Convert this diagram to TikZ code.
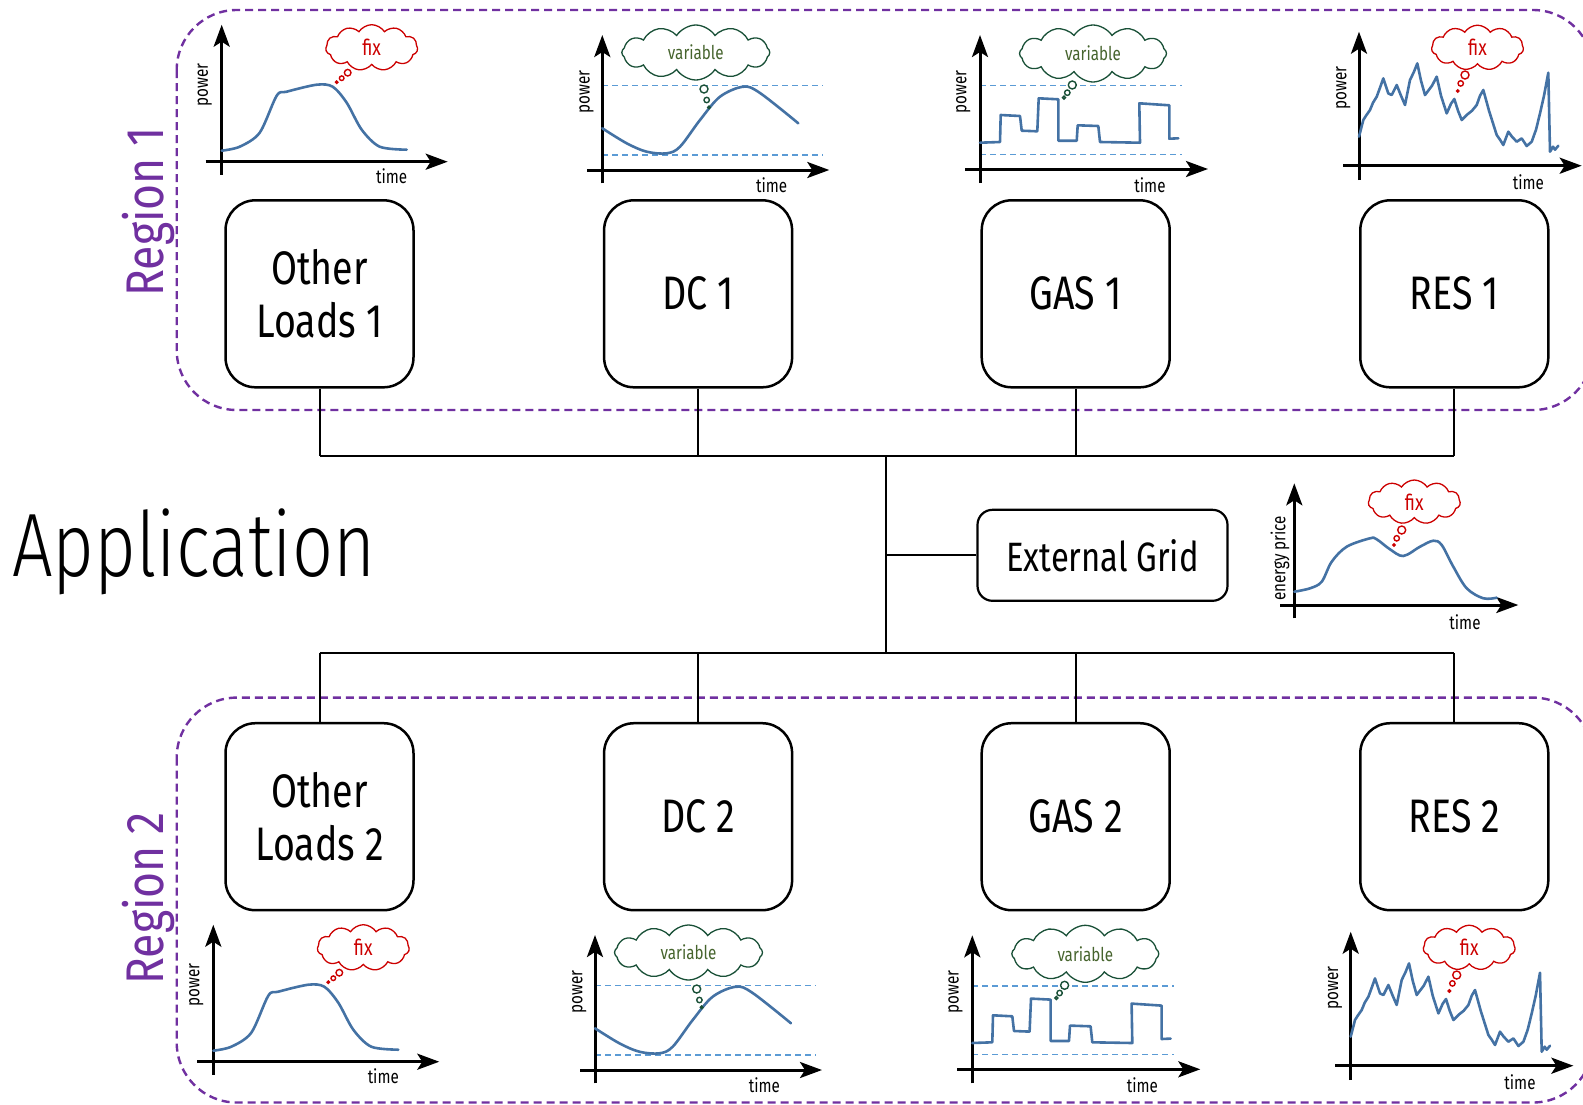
\documentclass[tikz,border=0pt]{standalone}
\usepackage{fontspec}
\setmainfont{Fira Sans}[FakeStretch=0.8]
\newfontfamily\thinfont{Fira Sans Light}[FakeStretch=0.8]
\newfontfamily\labelfont{Fira Sans}[FakeStretch=0.84]
\usetikzlibrary{arrows.meta,shapes.symbols}

\definecolor{regionpurple}{RGB}{112,48,160}
\definecolor{curveblue}{RGB}{68,114,164}
\definecolor{limitblue}{RGB}{91,155,213}
\definecolor{fixred}{RGB}{204,0,0}
\definecolor{varline}{RGB}{25,80,55}
\definecolor{vartext}{RGB}{70,100,45}

\tikzset{
  regionframe/.style={draw=regionpurple, line width=2.4pt, dash pattern=on 8pt off 5pt, rounded corners=60pt},
  regionlabel/.style={text=regionpurple, font=\labelfont\fontsize{53}{58}\selectfont, inner sep=0pt},
  unitbox/.style={draw, line width=2.5pt, rounded corners=30pt, minimum width=188pt, minimum height=187pt,
                  align=center, font=\fontsize{47}{53}\selectfont, inner sep=0pt},
  gridbox/.style={draw, line width=2.2pt, rounded corners=15pt, minimum width=250pt, minimum height=91pt,
                  font=\fontsize{41}{46}\selectfont, inner sep=0pt},
  wire/.style={line width=2pt},
  axisline/.style={line width=3pt, -{Stealth[length=22pt,width=16pt,inset=5pt]}},
  powercurve/.style={draw=curveblue, line width=2.6pt, line join=round, line cap=round},
  limitline/.style={draw=limitblue, line width=1.2pt, dash pattern=on 6pt off 4pt},
  axislabel/.style={font=\fontsize{19}{21}\selectfont, inner sep=0pt},
  fixcloud/.style={cloud, cloud puffs=11, cloud puff arc=115, aspect=2, draw=fixred, fill=white,
                   line width=1.3pt, text=fixred, inner sep=0pt, font=\fontsize{22}{24}\selectfont},
  varcloud/.style={cloud, cloud puffs=12, cloud puff arc=115, aspect=2.6, draw=varline, fill=white,
                   line width=1.3pt, text=vartext, inner sep=0pt, font=\fontsize{19}{21}\selectfont},
  fixbubble/.style={draw=fixred, fill=white, line width=1.4pt},
  varbubble/.style={draw=varline, fill=white, line width=1.4pt},
  % constant load profile
  loadplot/.pic={
    \draw[axisline] (0,13) -- (0,-137);
    \draw[axisline] (-16,0) -- (226,0);
    \draw[powercurve] plot[smooth, tension=0.5] coordinates {(0,-11) (18,-15) (38,-29) (55,-66) (65,-70) (95,-77) (111,-75) (125,-59) (140,-32) (158,-15) (185,-12)};
    \node[axislabel, rotate=90] (-y) at (-17,-77) {power};
    \node[axislabel] (-x) at (170,14) {time};
    \node[fixcloud, minimum width=92pt, minimum height=46pt] (-c) at (150,-114) {fix};
    \draw[fixbubble] (126,-89) circle[radius=3.3pt] (120,-83.5) circle[radius=2.3pt] (115,-79.5) circle[radius=1.2pt];
  },
  % shiftable data-centre load
  dcplot/.pic={
    \draw[limitline] (0,-84.3) -- (221,-84.3);
    \draw[limitline] (0,-15) -- (221,-15);
    \draw[axisline] (0,13.3) -- (0,-135);
    \draw[axisline] (-15,0) -- (227,0);
    \draw[powercurve] plot[smooth, tension=0.55] coordinates {(0,-41.7) (24.4,-26.7) (44.4,-18.3) (64.4,-16.7) (77.7,-23.3) (97.7,-50) (117.7,-73.3) (141,-83.3) (157.7,-77) (196,-46.7)};
    \node[axislabel, rotate=90] (-y) at (-15.7,-78.3) {power};
    \node[axislabel] (-x) at (169.4,15) {time};
    \node[varcloud, minimum width=148pt, minimum height=55pt] (-c) at (93.5,-117.5) {variable};
    \draw[varbubble] (101.7,-81) circle[radius=4pt] (104.4,-70) circle[radius=2.7pt] (106.7,-62.7) circle[radius=1.3pt];
  },
  % gas plant dispatch
  gasplot/.pic={
    \draw[limitline] (0,-83.3) -- (201.7,-83.3);
    \draw[limitline] (0,-14.7) -- (201.7,-14.7);
    \draw[axisline] (0,14) -- (0,-134);
    \draw[axisline] (-15,0) -- (228,0);
    \draw[powercurve] (0,-26.3) -- (20,-27) -- (20.7,-54) -- (40,-53) -- (41.7,-38.3) -- (57.3,-37.7) -- (58.7,-70.7)
       -- (78.3,-69.7) -- (78.3,-28.3) -- (96.7,-28.3) -- (97.7,-43.7) -- (118.3,-43) -- (120,-27) -- (160,-26.3)
       -- (159.3,-65.7) -- (189.3,-63.7) -- (189.3,-30.3) -- (198.3,-30.7);
    \node[axislabel, rotate=90] (-y) at (-16.7,-77.3) {power};
    \node[axislabel] (-x) at (170,16) {time};
    \node[varcloud, minimum width=147pt, minimum height=57pt] (-c) at (113,-115.5) {variable};
    \draw[varbubble] (92.3,-84) circle[radius=4pt] (87.3,-76.3) circle[radius=2.7pt] (84,-71.3) circle[radius=1.5pt];
  },
  % renewable generation
  resplot/.pic={
    \draw[axisline] (0,14.3) -- (0,-134);
    \draw[axisline] (-15.7,0) -- (222.7,0);
    \draw[powercurve] (0,-29) -- (4.3,-45.7) -- (7,-50) -- (11,-55.7) -- (14,-63) -- (17.7,-69) -- (21,-78) -- (24.3,-87.3)
       -- (29.3,-72.3) -- (32.7,-70.7) -- (37.7,-80.7) -- (42,-70) -- (46,-60.7) -- (51,-85.7) -- (55,-94) -- (58.3,-102.3)
       -- (62,-85) -- (66,-70.7) -- (70,-76) -- (73,-80) -- (77.7,-89) -- (82,-70) -- (87.7,-52.3) -- (92,-62) -- (95.3,-66.7)
       -- (99,-55) -- (102.7,-45.7) -- (108,-51) -- (113,-55) -- (117.7,-60.7) -- (121,-70) -- (124.3,-75.7) -- (130,-55)
       -- (137.7,-30.7) -- (141,-26) -- (144.3,-20.7) -- (149.3,-34) -- (153,-29) -- (157.7,-24) -- (162.7,-27.3)
       -- (167.7,-19.7) -- (172.7,-24) -- (177,-36) -- (181,-52.3) -- (185,-70) -- (189.3,-93) -- (191,-14) -- (194,-19)
       -- (196,-16) -- (199.3,-20);
    \node[axislabel, rotate=90] (-y) at (-15.7,-77.4) {power};
    \node[axislabel] (-x) at (169.3,16) {time};
    \node[fixcloud, minimum width=92pt, minimum height=45pt] (-c) at (118.5,-118) {fix};
    \draw[fixbubble] (106,-90.7) circle[radius=4pt] (101.7,-82.3) circle[radius=2.7pt] (98.7,-74.7) circle[radius=1.2pt];
  },
  % energy price profile
  priceplot/.pic={
    \draw[axisline] (0,13.3) -- (0,-121.7);
    \draw[axisline] (-14.3,0) -- (224,0);
    \draw[powercurve] plot[smooth, tension=0.55] coordinates {(0,-13.3) (15.7,-16.7) (27.4,-23.3) (37.4,-43.3) (52.4,-58.3) (75.7,-66.7) (82.4,-65.7) (95.7,-55.7) (109,-49) (125.7,-58.3) (139,-64.3) (147.4,-60) (159,-38.3) (172.4,-16.7) (189,-6.7) (202.4,-7.3)};
    \node[axislabel, rotate=90] (-y) at (-14.3,-46.7) {energy price};
    \node[axislabel] (-x) at (170.7,16.7) {time};
    \node[fixcloud, minimum width=92pt, minimum height=44pt] (-c) at (120,-103) {fix};
    \draw[fixbubble] (107.4,-75) circle[radius=4pt] (102.4,-66.7) circle[radius=2.7pt] (99.7,-60) circle[radius=1.2pt];
  }
}

\begin{document}
\begin{tikzpicture}[x=1pt,y=-1pt]
\useasboundingbox (0,0) rectangle (1583,1104);
\clip (0,0) rectangle (1583,1104);

% regions
\draw[regionframe] (176.7,10) rectangle (1593,410);
\draw[regionframe] (176.7,697.6) rectangle (1593,1102.5);
\node[regionlabel, rotate=90, anchor=base] (reg1) at (163.3,211.7) {Region 1};
\node[regionlabel, rotate=90, anchor=base] (reg2) at (163.3,898.3) {Region 2};

% title
\node[anchor=base west, inner sep=0pt, font=\thinfont\fontsize{90}{100}\selectfont] (app) at (12,576.7) {Application};

% profiles of region 1
\pic (pl1) at (221.7,161.7) {loadplot};
\pic (pd1) at (602.3,170) {dcplot};
\pic (pg1) at (980,169) {gasplot};
\pic (pr1) at (1359,165.7) {resplot};

% profiles of region 2
\pic (pl2) at (213.3,1061.7) {loadplot};
\pic (pd2) at (595,1070) {dcplot};
\pic (pg2) at (972.3,1069.3) {gasplot};
\pic (pr2) at (1350.7,1065.7) {resplot};

% price profile
\pic (pp) at (1294.3,605) {priceplot};

% units
\node[unitbox] (ol1) at (319.5,293.8) {Other\\Loads 1};
\node[unitbox] (dc1) at (698.1,293.8) {DC 1};
\node[unitbox] (gas1) at (1075.7,293.8) {GAS 1};
\node[unitbox] (res1) at (1454.3,293.8) {RES 1};
\node[unitbox] (ol2) at (319.5,816.7) {Other\\Loads 2};
\node[unitbox] (dc2) at (698.1,816.7) {DC 2};
\node[unitbox] (gas2) at (1075.7,816.7) {GAS 2};
\node[unitbox] (res2) at (1454.3,816.7) {RES 2};
\node[gridbox] (ext) at (1102.5,555.3) {External Grid};

% network
\coordinate (busT) at (886.4,456.3);
\coordinate (busB) at (886.4,653.2);
\foreach \n in {ol1,dc1,gas1,res1} \draw[wire] (\n.south) -- (\n.south |- busT);
\foreach \n in {ol2,dc2,gas2,res2} \draw[wire] (\n.north) -- (\n.north |- busB);
\draw[wire] (ol1.south |- busT) -- (res1.south |- busT);
\draw[wire] (ol2.north |- busB) -- (res2.north |- busB);
\draw[wire] (busT) -- (busB);
\draw[wire] (ext.west) -- (ext.west -| busT);
\end{tikzpicture}
\end{document}
